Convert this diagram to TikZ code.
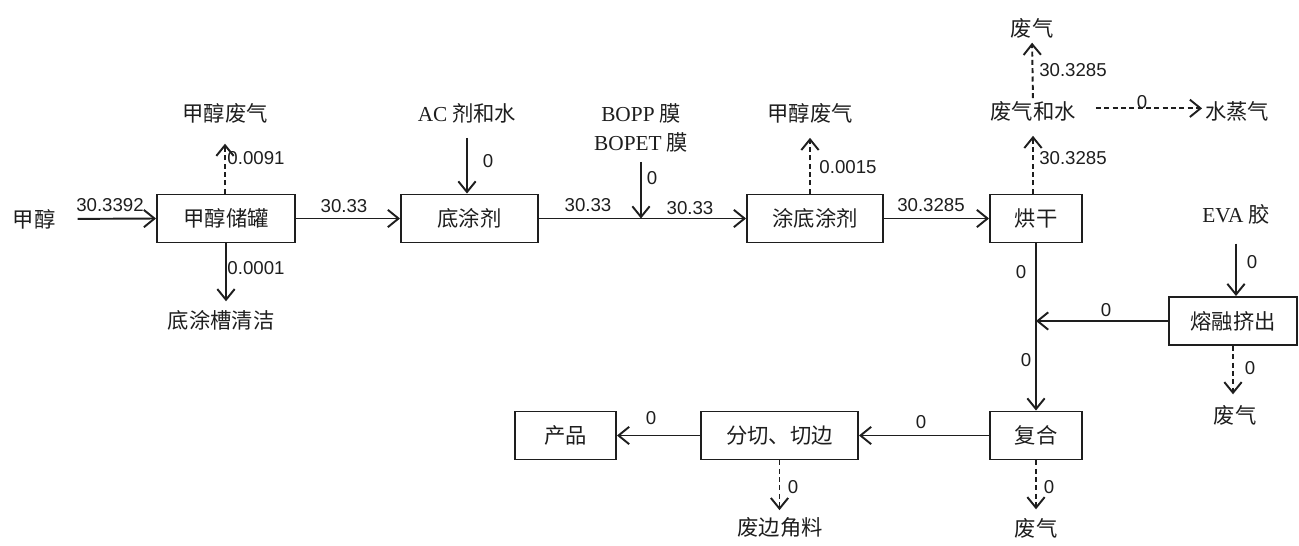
\documentclass[tikz,border=0pt]{standalone}
\usepackage{fontspec}
\setmainfont{Liberation Serif}
\newfontfamily\cjk{Noto Sans CJK SC}
\newfontfamily\numf{Liberation Sans}
\usetikzlibrary{arrows.meta}
\definecolor{ink}{HTML}{1E1E1E}
\tikzset{
  ln/.style={line width=1.45pt, draw=ink},
  arr/.style={ln, -{Straight Barb[length=8pt,width=13pt,line width=1.45pt]}},
  darr/.style={arr, dash pattern=on 3.75pt off 2.5pt},
  box/.style={draw=ink, line width=1.45pt, minimum height=36pt, inner sep=0pt,
    text=ink, font=\cjk\fontsize{16}{19}\selectfont},
  lbl/.style={inner sep=0pt, text=ink, font=\cjk\fontsize{16}{19}\selectfont},
  num/.style={inner sep=0pt, text=ink, font=\numf\fontsize{14}{16}\selectfont},
}
\begin{document}
\begin{tikzpicture}[x=0.75pt,y=-0.75pt]
\useasboundingbox (0,0) rectangle (1299,546);
% boxes
\node[box, minimum width=103.5pt] (tank) at (226,218.5) {甲醇储罐};
\node[box, minimum width=102.75pt] (dtj) at (469.5,218.5) {底涂剂};
\node[box, minimum width=102pt] (tdtj) at (815,218.5) {涂底涂剂};
\node[box, minimum width=69pt] (hg) at (1036,218.5) {烘干};
\node[box, minimum width=96pt] (rj) at (1233,321) {熔融挤出};
\node[box, minimum width=69pt] (fh) at (1036,435.5) {复合};
\node[box, minimum width=117.75pt] (fq) at (779.5,435.5) {分切、切边};
\node[box, minimum width=75.75pt] (cp) at (565.5,435.5) {产品};
% text labels
\node[lbl] (m) at (34,219) {甲醇};
\node[lbl] (gas1) at (225,113) {甲醇废气};
\node[lbl] (djc) at (221,320) {底涂槽清洁};
\node[lbl] (ac) at (467,113) {{\rmfamily AC} 剂和水};
\node[lbl, align=center, anchor=south, font=\cjk\fontsize{16}{21.75}\selectfont] (bopp) at (641,152.5) {{\rmfamily BOPP} 膜\\{\rmfamily BOPET} 膜};
\node[lbl] (gas2) at (810,113) {甲醇废气};
\node[lbl] (fqs) at (1033,111) {废气和水};
\node[lbl] (fq1) at (1032,28) {废气};
\node[lbl] (szq) at (1237,111) {水蒸气};
\node[lbl] (eva) at (1236,214) {{\rmfamily EVA} 胶};
\node[lbl] (fq2) at (1235,415) {废气};
\node[lbl] (fq3) at (1036,528) {废气};
\node[lbl] (fbjl) at (780,527) {废边角料};
% junctions
\coordinate (j1) at (bopp.south |- dtj.east);
\coordinate (j2) at (hg.south |- rj.west);
% connectors
\draw[arr, shorten <=16.5pt] (m.east) -- (tank.west);
\draw[darr, shorten >=15.4pt] (gas1.south |- tank.north) -- (gas1.south);
\draw[arr, shorten >=6.4pt] (tank.south) -- (tank.south |- djc.north);
\draw[arr] (tank.east) -- (dtj.west);
\draw[arr, shorten <=11pt] (ac.south) -- (ac.south |- dtj.north);
\draw[arr] (dtj.east) -- (tdtj.west);
\draw[arr, shorten <=7pt] (bopp.south) -- (j1);
\draw[darr, shorten >=11pt] (gas2.south |- tdtj.north) -- (gas2.south);
\draw[arr] (tdtj.east) -- (hg.west);
\draw[darr, shorten >=11pt] (fqs.south |- hg.north) -- (fqs.south);
\draw[darr, shorten <=2pt, shorten >=3.4pt] (fqs.north) -- (fq1.south);
\draw[darr, shorten <=15pt, shorten >=2pt] ([yshift=2pt]fqs.east) -- ([yshift=2pt]szq.west);
\draw[arr, shorten <=14.6pt] (eva.south) -- (eva.south |- rj.north);
\draw[arr] (hg.south) -- (fh.north);
\draw[arr] (rj.west) -- (j2);
\draw[darr, shorten >=7.9pt] (rj.south) -- (rj.south |- fq2.north);
\draw[darr, shorten >=6.4pt] (fh.south) -- (fq3.north);
\draw[arr] (fh.west) -- (fq.east);
\draw[arr] (fq.west) -- (cp.east);
\draw[darr, shorten >=5pt] (fq.south) -- (fq.south |- fbjl.north);
% flow values
\node[num] (v1) at (110,205) {30.3392};
\node[num] (v2) at (256,158) {0.0091};
\node[num] (v3) at (256,268) {0.0001};
\node[num] (v4) at (344,206) {30.33};
\node[num] (v5) at (488,161) {0};
\node[num] (v6) at (588,205) {30.33};
\node[num] (v7) at (652,178) {0};
\node[num] (v8) at (690,208) {30.33};
\node[num] (v9) at (848,167) {0.0015};
\node[num] (v10) at (931,205) {30.3285};
\node[num] (v11) at (1073,158) {30.3285};
\node[num] (v12) at (1073,70) {30.3285};
\node[num] (v13) at (1142,102) {0};
\node[num] (v14) at (1252,262) {0};
\node[num] (v15) at (1021,272) {0};
\node[num] (v16) at (1106,310) {0};
\node[num] (v17) at (1026,360) {0};
\node[num] (v18) at (1250,368) {0};
\node[num] (v19) at (921,422) {0};
\node[num] (v20) at (1049,487) {0};
\node[num] (v21) at (651,418) {0};
\node[num] (v22) at (793,487) {0};
\end{tikzpicture}
\end{document}
